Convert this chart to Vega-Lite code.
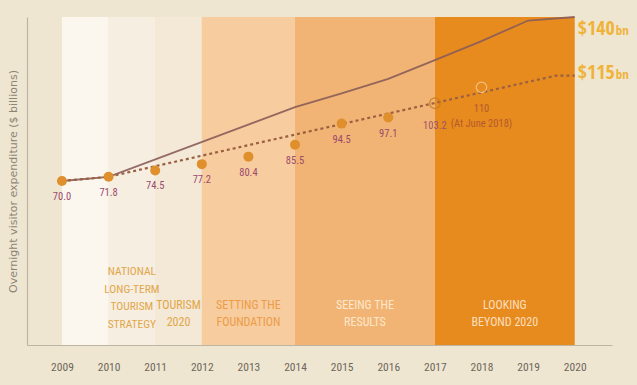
{
  "$schema": "https://vega.github.io/schema/vega-lite/v6.json",
  "width": 585,
  "height": 328,
  "autosize": {"type": "none"},
  "padding": {"left": 27, "top": 17, "right": 25, "bottom": 40},
  "background": "#efe6d2",
  "config": {"view": {"stroke": null}},
  "datasets": {
    "bands": [
      {"phase": "p1", "start": 2009, "end": 2010},
      {"phase": "p2", "start": 2010, "end": 2011},
      {"phase": "p3", "start": 2011, "end": 2012},
      {"phase": "p4", "start": 2012, "end": 2014},
      {"phase": "p5", "start": 2014, "end": 2017},
      {"phase": "p6", "start": 2017, "end": 2020}
    ],
    "phases": [
      {"label": "NATIONAL\nLONG-TERM\nTOURISM\nSTRATEGY", "mid": 2010.5, "tone": "gold", "lines": 4},
      {"label": "TOURISM\n2020", "mid": 2011.5, "tone": "gold", "lines": 2},
      {"label": "SETTING THE\nFOUNDATION", "mid": 2013, "tone": "orange", "lines": 2},
      {"label": "SEEING THE\nRESULTS", "mid": 2015.5, "tone": "pale", "lines": 2},
      {"label": "LOOKING\nBEYOND 2020", "mid": 2018.5, "tone": "pale2", "lines": 2}
    ],
    "target140": [
      {"year": 2009, "value": 70.0},
      {"year": 2010, "value": 71.8},
      {"year": 2014, "value": 101.5},
      {"year": 2015, "value": 107.4},
      {"year": 2016, "value": 113.6},
      {"year": 2017, "value": 121.6},
      {"year": 2018, "value": 129.7},
      {"year": 2019, "value": 138.5},
      {"year": 2020, "value": 140}
    ],
    "target115": [
      {"year": 2009, "value": 70.0},
      {"year": 2010, "value": 71.8},
      {"year": 2019.6, "value": 115},
      {"year": 2020, "value": 115}
    ],
    "actual": [
      {"year": 2009, "value": 70.0, "label": "70.0", "status": "actual"},
      {"year": 2010, "value": 71.8, "label": "71.8", "status": "actual"},
      {"year": 2011, "value": 74.5, "label": "74.5", "status": "actual"},
      {"year": 2012, "value": 77.2, "label": "77.2", "status": "actual"},
      {"year": 2013, "value": 80.4, "label": "80.4", "status": "actual"},
      {"year": 2014, "value": 85.5, "label": "85.5", "status": "actual"},
      {"year": 2015, "value": 94.5, "label": "94.5", "status": "actual"},
      {"year": 2016, "value": 97.1, "label": "97.1", "status": "actual"},
      {"year": 2017, "value": 103.2, "label": "103.2", "status": "recent"},
      {"year": 2018, "value": 110, "label": "110", "status": "june", "note": "(At June 2018)"}
    ],
    "targets": [
      {"year": 2020, "value": 140, "amount": "$140", "unit": "bn"},
      {"year": 2020, "value": 115, "amount": "$115", "unit": "bn"}
    ]
  },
  "layer": [
    {
      "data": {"name": "bands"},
      "mark": {"type": "rect"},
      "encoding": {
        "x": {
          "field": "start", "type": "quantitative",
          "scale": {"domain": [2008.25, 2020.8], "nice": false, "zero": false},
          "axis": {
            "values": [2009, 2010, 2011, 2012, 2013, 2014, 2015, 2016, 2017, 2018, 2019, 2020],
            "format": "d", "title": null, "ticks": false, "grid": false,
            "domainColor": "#bdb4a3", "domainWidth": 1.2,
            "labelFont": "Roboto Condensed",
            "labelFontSize": 11.5, "labelColor": "#6e665a", "labelPadding": 16
          }
        },
        "x2": {"field": "end"},
        "y": {
          "datum": 0, "type": "quantitative",
          "scale": {"domain": [0, 140], "nice": false, "zero": true},
          "axis": {
            "title": "Overnight visitor expenditure ($ billions)",
            "labels": false, "ticks": false, "grid": false,
            "domainColor": "#bdb4a3", "domainWidth": 1.2,
            "titleFont": "DejaVu Sans", "titleFontSize": 11, "titleFontWeight": "normal",
            "titleColor": "#8c8476", "titlePadding": 9
          }
        },
        "y2": {"datum": 140},
        "color": {
          "field": "phase", "type": "nominal", "legend": null,
          "scale": {
            "domain": ["p1", "p2", "p3", "p4", "p5", "p6"],
            "range": ["#fbf7ef", "#f6eee1", "#f3e9d6", "#f7cc9e", "#f1b474", "#e88b1f"]
          }
        }
      }
    },
    {
      "data": {"name": "phases"},
      "transform": [{"filter": "datum.lines === 4"}],
      "mark": {
        "type": "text", "baseline": "alphabetic", "align": "center", "lineBreak": "\n",
        "lineHeight": 17.5, "fontSize": 11.5, "font": "Roboto Condensed"
      },
      "encoding": {
        "x": {"field": "mid", "type": "quantitative"},
        "y": {"datum": 29.8, "type": "quantitative"},
        "text": {"field": "label"},
        "color": {
          "field": "tone", "type": "nominal", "legend": null,
          "scale": {
            "domain": ["gold", "orange", "pale", "pale2"],
            "range": ["#e2a64a", "#ec9c48", "#fde7cb", "#fbdfbd"]
          }
        }
      }
    },
    {
      "data": {"name": "phases"},
      "transform": [{"filter": "datum.lines === 2"}],
      "mark": {
        "type": "text", "baseline": "alphabetic", "align": "center", "lineBreak": "\n",
        "lineHeight": 16.5, "fontSize": 12, "font": "Roboto Condensed"
      },
      "encoding": {
        "x": {"field": "mid", "type": "quantitative"},
        "y": {"datum": 15.2, "type": "quantitative"},
        "text": {"field": "label"},
        "color": {
          "field": "tone", "type": "nominal", "legend": null,
          "scale": {
            "domain": ["gold", "orange", "pale", "pale2"],
            "range": ["#e2a64a", "#ec9c48", "#fde7cb", "#fbdfbd"]
          }
        }
      }
    },
    {
      "data": {"name": "target140"},
      "mark": {"type": "line", "color": "#8a5c58", "strokeWidth": 1.8, "opacity": 0.9},
      "encoding": {
        "x": {"field": "year", "type": "quantitative"},
        "y": {"field": "value", "type": "quantitative"}
      }
    },
    {
      "data": {"name": "target115"},
      "mark": {"type": "line", "color": "#9a6040", "strokeWidth": 2.2, "strokeDash": [3, 3]},
      "encoding": {
        "x": {"field": "year", "type": "quantitative"},
        "y": {"field": "value", "type": "quantitative"}
      }
    },
    {
      "data": {"name": "actual"},
      "transform": [{"filter": "datum.status === 'actual'"}],
      "layer": [
        {
          "mark": {"type": "point", "filled": true, "size": 100, "color": "#df8f2c", "opacity": 1},
          "encoding": {
            "x": {"field": "year", "type": "quantitative"},
            "y": {"field": "value", "type": "quantitative"}
          }
        },
        {
          "mark": {
            "type": "text", "dy": 16, "baseline": "middle", "fontSize": 10.5, "color": "#9b4a6e",
            "font": "Roboto Condensed"
          },
          "encoding": {
            "x": {"field": "year", "type": "quantitative"},
            "y": {"field": "value", "type": "quantitative"},
            "text": {"field": "label"}
          }
        }
      ]
    },
    {
      "data": {"name": "actual"},
      "transform": [{"filter": "datum.status === 'recent'"}],
      "layer": [
        {
          "mark": {"type": "point", "filled": false, "size": 110, "color": "#c47a20", "strokeWidth": 1.5},
          "encoding": {
            "x": {"field": "year", "type": "quantitative"},
            "y": {"field": "value", "type": "quantitative"}
          }
        },
        {
          "mark": {
            "type": "text", "dy": 23, "baseline": "middle", "fontSize": 10.5, "color": "#a0506a",
            "font": "Roboto Condensed"
          },
          "encoding": {
            "x": {"field": "year", "type": "quantitative"},
            "y": {"field": "value", "type": "quantitative"},
            "text": {"field": "label"}
          }
        }
      ]
    },
    {
      "data": {"name": "actual"},
      "transform": [{"filter": "datum.status === 'june'"}],
      "layer": [
        {
          "mark": {"type": "point", "filled": false, "size": 110, "color": "#f8d8a0", "strokeWidth": 1.2},
          "encoding": {
            "x": {"field": "year", "type": "quantitative"},
            "y": {"field": "value", "type": "quantitative"}
          }
        },
        {
          "mark": {
            "type": "text", "dy": 22, "baseline": "middle", "fontSize": 10.5, "color": "#b35a2a",
            "font": "Roboto Condensed"
          },
          "encoding": {
            "x": {"field": "year", "type": "quantitative"},
            "y": {"field": "value", "type": "quantitative"},
            "text": {"field": "label"}
          }
        },
        {
          "mark": {
            "type": "text", "dy": 37, "baseline": "middle", "fontSize": 10.5, "color": "#b35a2a",
            "font": "Roboto Condensed"
          },
          "encoding": {
            "x": {"field": "year", "type": "quantitative"},
            "y": {"field": "value", "type": "quantitative"},
            "text": {"field": "note"}
          }
        }
      ]
    },
    {
      "data": {"name": "targets"},
      "transform": [{"filter": "datum.value === 140"}],
      "layer": [
        {
          "mark": {
            "type": "text", "align": "left", "baseline": "alphabetic", "dx": 3, "dy": 18,
            "fontSize": 20, "fontWeight": "bold", "color": "#efb33a", "font": "Open Sans Condensed"
          },
          "encoding": {
            "x": {"field": "year", "type": "quantitative"},
            "y": {"field": "value", "type": "quantitative"},
            "text": {"field": "amount"}
          }
        },
        {
          "mark": {
            "type": "text", "align": "left", "baseline": "alphabetic", "dx": 41, "dy": 18,
            "fontSize": 13, "fontWeight": "bold", "color": "#efb33a", "font": "Open Sans Condensed"
          },
          "encoding": {
            "x": {"field": "year", "type": "quantitative"},
            "y": {"field": "value", "type": "quantitative"},
            "text": {"field": "unit"}
          }
        }
      ]
    },
    {
      "data": {"name": "targets"},
      "transform": [{"filter": "datum.value === 115"}],
      "layer": [
        {
          "mark": {
            "type": "text", "align": "left", "baseline": "alphabetic", "dx": 3, "dy": 3,
            "fontSize": 20, "fontWeight": "bold", "color": "#efb33a", "font": "Open Sans Condensed"
          },
          "encoding": {
            "x": {"field": "year", "type": "quantitative"},
            "y": {"field": "value", "type": "quantitative"},
            "text": {"field": "amount"}
          }
        },
        {
          "mark": {
            "type": "text", "align": "left", "baseline": "alphabetic", "dx": 41, "dy": 3,
            "fontSize": 13, "fontWeight": "bold", "color": "#efb33a", "font": "Open Sans Condensed"
          },
          "encoding": {
            "x": {"field": "year", "type": "quantitative"},
            "y": {"field": "value", "type": "quantitative"},
            "text": {"field": "unit"}
          }
        }
      ]
    }
  ],
  "resolve": {"scale": {"color": "independent"}}
}
